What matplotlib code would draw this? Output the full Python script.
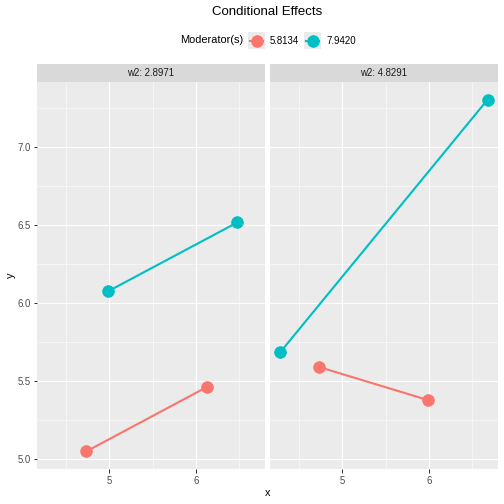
import matplotlib
matplotlib.use("Agg")
import matplotlib.pyplot as plt
from matplotlib.patches import Rectangle
from matplotlib.lines import Line2D
import numpy as np

plt.rcParams["font.family"] = ["Liberation Sans", "DejaVu Sans"]

# data
panels = ["w2: 2.8971", "w2: 4.8291"]
moderators = ["5.8134", "7.9420"]
colors = ["#F8766D", "#00BFC4"]

x_left_red = [4.736, 6.126]
y_left_red = [5.050, 5.462]
x_left_teal = [4.990, 6.480]
y_left_teal = [6.076, 6.517]

x_right_red = [4.736, 5.989]
y_right_red = [5.590, 5.379]
x_right_teal = [4.287, 6.678]
y_right_teal = [5.686, 7.303]

series = [
    [(x_left_red, y_left_red), (x_left_teal, y_left_teal)],
    [(x_right_red, y_right_red), (x_right_teal, y_right_teal)],
]

x_ticks = [5, 6]
y_ticks = [5.0, 5.5, 6.0, 6.5, 7.0]

W, H = 504, 504
fig = plt.figure(figsize=(7, 7), dpi=72)

def fx(px):
    return px / W

def fy(py):
    return 1 - py / H

# shared limits with ggplot-style 5% expansion
all_x = np.concatenate([x_left_red, x_left_teal, x_right_red, x_right_teal])
all_y = np.concatenate([y_left_red, y_left_teal, y_right_red, y_right_teal])
xpad = (all_x.max() - all_x.min()) * 0.05
ypad = (all_y.max() - all_y.min()) * 0.05
xlim = (all_x.min() - xpad, all_x.max() + xpad)
ylim = (all_y.min() - ypad, all_y.max() + ypad)

panel_lefts = [37, 270]
panel_w = 228
panel_top, panel_bot = 82, 469
strip_top = 64

for i, left in enumerate(panel_lefts):
    ax = fig.add_axes([fx(left), fy(panel_bot), panel_w / W, (panel_bot - panel_top) / H])
    ax.set_facecolor("#EBEBEB")
    for s in ax.spines.values():
        s.set_visible(False)
    ax.set_xlim(xlim)
    ax.set_ylim(ylim)
    ax.set_xticks(x_ticks)
    ax.set_xticks([4.5, 5.5, 6.5], minor=True)
    ax.set_yticks(y_ticks)
    ax.set_yticks([5.25, 5.75, 6.25, 6.75, 7.25], minor=True)
    ax.grid(which="major", color="white", linewidth=1.1)
    ax.grid(which="minor", color="white", linewidth=0.55)
    ax.set_axisbelow(True)
    ax.tick_params(which="major", length=3.5, width=1, color="#333333",
                   labelsize=9.6, labelcolor="#4D4D4D", pad=3)
    ax.tick_params(which="minor", length=0)
    ax.set_xticklabels([str(t) for t in x_ticks])
    if i == 0:
        ax.set_yticklabels([f"{t:.1f}" for t in y_ticks])
    else:
        ax.tick_params(axis="y", which="major", length=0, labelleft=False)
    for (xs, ys), c in zip(series[i], colors):
        ax.plot(xs, ys, color=c, linewidth=2.1, marker="o", markersize=11.5,
                solid_capstyle="butt", clip_on=False)

    # strip
    sax = fig.add_axes([fx(left), fy(panel_top), panel_w / W, (panel_top - strip_top) / H])
    sax.set_facecolor("#D9D9D9")
    sax.set_xticks([])
    sax.set_yticks([])
    for s in sax.spines.values():
        s.set_visible(False)
    sax.text(0.5, 0.5, panels[i], ha="center", va="center", fontsize=9.6,
             color="#1A1A1A", transform=sax.transAxes)

# titles and axis labels
fig.text(fx(267.5), fy(12), "Conditional Effects", ha="center", va="center",
         fontsize=13.2, color="black")
fig.text(fx(267.5), fy(493), "x", ha="center", va="center", fontsize=11, color="black")
fig.text(fx(11), fy(275), "y", ha="center", va="center", fontsize=11, rotation=90,
         color="black")

# legend
fig.text(fx(180), fy(40), "Moderator(s)", ha="left", va="center", fontsize=11)
key_lefts = [248, 304]
for kl, c, lab in zip(key_lefts, colors, moderators):
    fig.patches.append(Rectangle((fx(kl), fy(49)), 17 / W, 17 / H,
                                 transform=fig.transFigure, facecolor="#EBEBEB",
                                 edgecolor="none"))
    fig.lines.append(Line2D([fx(kl + 2), fx(kl + 15)], [fy(40.5), fy(40.5)],
                            transform=fig.transFigure, color=c, linewidth=2.1))
    fig.lines.append(Line2D([fx(kl + 8.5)], [fy(40.5)], transform=fig.transFigure,
                            color=c, marker="o", markersize=11.5, linestyle="none"))
    fig.text(fx(kl + 22), fy(40.5), lab, ha="left", va="center", fontsize=9.6,
             color="black")

fig.savefig("out.png", dpi=72, facecolor="white")
